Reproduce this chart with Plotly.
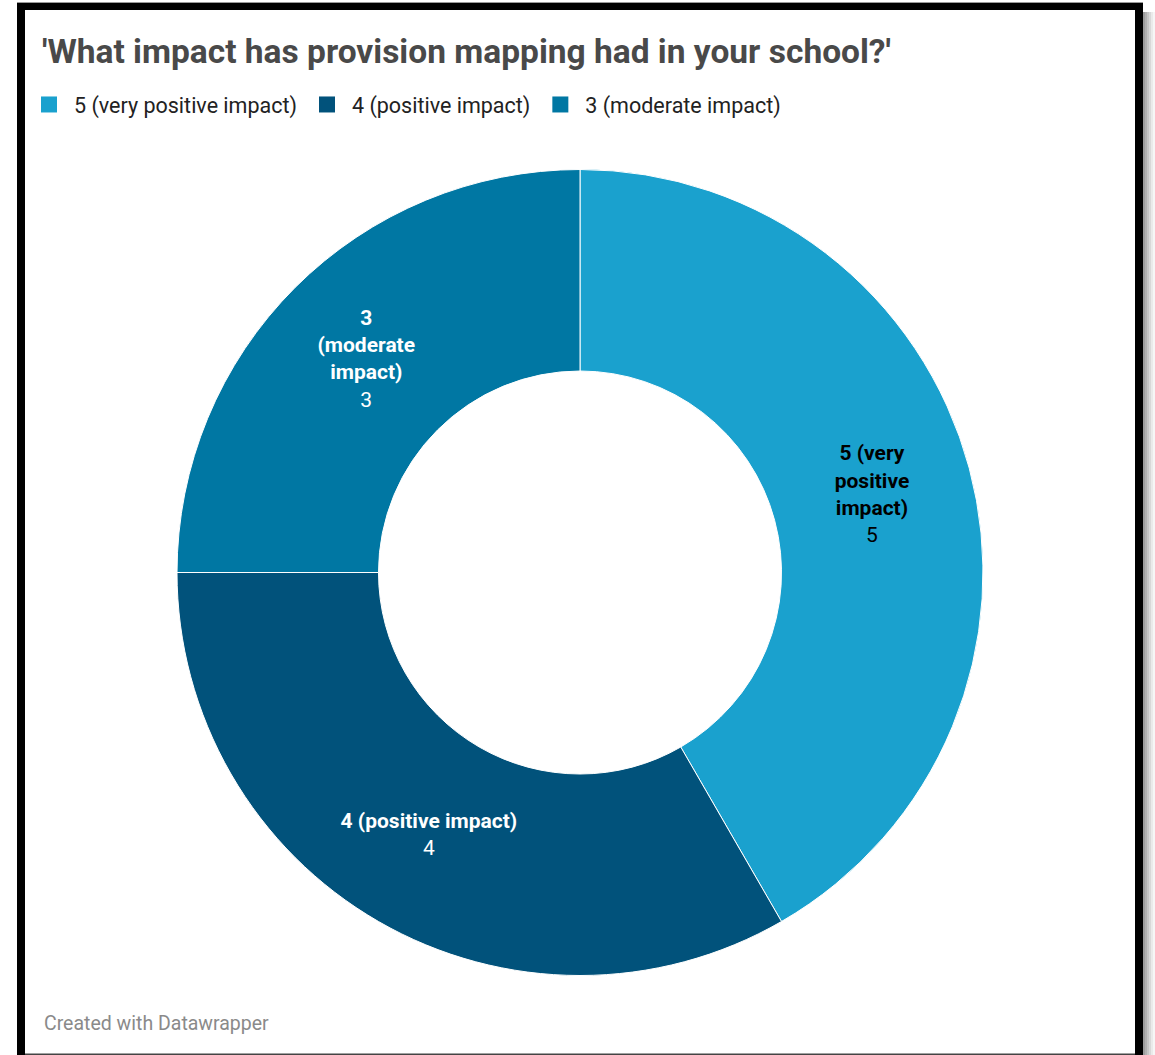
import plotly.graph_objects as go

W, H = 1155, 1055

labels = ["5 (very positive impact)", "4 (positive impact)", "3 (moderate impact)"]
wrapped = ["5 (very<br>positive<br>impact)", "4 (positive impact)", "3<br>(moderate<br>impact)"]
values = [5, 4, 3]
colors = ["#1aa1ce", "#01527b", "#0077a3"]
text_colors = ["#000000", "#ffffff", "#ffffff"]

title = "'What impact has provision mapping had in your school?'"
footer = "Created with Datawrapper"

def px(x):
    return x / W

def py(y):
    return 1 - y / H

cx, cy, r = 580, 572.5, 403

fig = go.Figure()
fig.add_trace(go.Pie(
    labels=labels,
    values=values,
    text=wrapped,
    texttemplate="<b>%{text}</b><br>%{value}",
    textinfo="text",
    textposition="inside",
    insidetextorientation="horizontal",
    insidetextfont=dict(family="Roboto", size=21, color=text_colors),
    hole=0.5,
    sort=False,
    direction="clockwise",
    rotation=0,
    marker=dict(colors=colors, line=dict(color="#ffffff", width=1)),
    domain=dict(x=[px(cx - r), px(cx + r)], y=[py(cy + r), py(cy - r)]),
    showlegend=False,
    hoverinfo="label+value",
))

# legend entries (square keys) for each category
for lab, col in zip(labels, colors):
    fig.add_trace(go.Scatter(
        x=[None], y=[None], mode="markers", name=lab,
        marker=dict(symbol="square", size=16, color=col),
        showlegend=True, hoverinfo="skip",
    ))

shapes = []
# top thin grey line
shapes.append(dict(type="rect", xref="paper", yref="paper", x0=px(17), x1=px(1143), y0=py(3), y1=py(2),
                   fillcolor="#9a9a9a", line=dict(width=0), layer="above"))
# black frame
for (x0, x1, y0, y1) in [(17, 25, 3, 1055), (17, 1143, 3, 10), (1135, 1143, 3, 1055)]:
    shapes.append(dict(type="rect", xref="paper", yref="paper", x0=px(x0), x1=px(x1), y0=py(y1), y1=py(y0),
                       fillcolor="#000000", line=dict(width=0), layer="above"))
# bottom thin line
shapes.append(dict(type="rect", xref="paper", yref="paper", x0=px(25), x1=px(1135), y0=py(1055), y1=py(1053.5),
                   fillcolor="#444444", line=dict(width=0), layer="above"))
# right shadow
for i, c in enumerate(["#9c9c9c", "#b0b0b0", "#c4c4c4", "#d8d8d8", "#eaeaea", "#f6f6f6"]):
    shapes.append(dict(type="rect", xref="paper", yref="paper", x0=px(1143 + 2 * i), x1=px(1145 + 2 * i),
                       y0=py(1055), y1=py(12), fillcolor=c, line=dict(width=0), layer="above"))

fig.update_layout(
    width=W, height=H,
    margin=dict(l=0, r=0, t=0, b=0),
    paper_bgcolor="#ffffff",
    plot_bgcolor="#ffffff",
    font=dict(family="Roboto", color="#333333"),
    xaxis=dict(visible=False, showgrid=False, zeroline=False),
    yaxis=dict(visible=False, showgrid=False, zeroline=False),
    title=dict(text="<b>" + title + "</b>", x=px(42), xanchor="left", y=py(51), yanchor="middle",
               font=dict(family="Roboto", size=33.5, color="#494949")),
    legend=dict(orientation="h", x=px(24), xanchor="left", y=py(84), yanchor="top",
                font=dict(family="Roboto", size=21.5, color="#222222"), traceorder="normal",
                itemsizing="trace", itemwidth=40, bgcolor="rgba(0,0,0,0)"),
    shapes=shapes,
    annotations=[dict(text=footer, xref="paper", yref="paper", x=px(42), y=py(1023), xanchor="left",
                      yanchor="middle", showarrow=False, font=dict(family="Roboto", size=19.5, color="#8a8a8a"))],
)

fig.write_html("out.html")
